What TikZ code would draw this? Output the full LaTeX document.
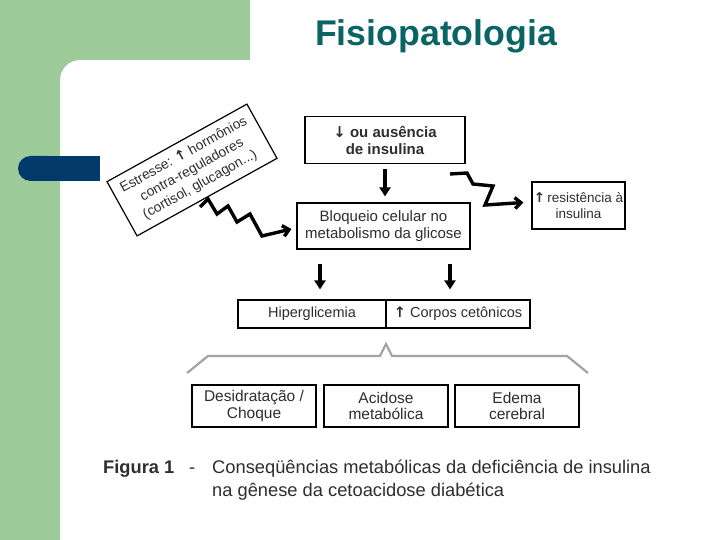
\documentclass[tikz,border=0pt]{standalone}
\usepackage{fontspec}
\setmainfont{Liberation Sans}
\newfontfamily\arrowfont{DejaVu Sans}
\usetikzlibrary{arrows.meta,calc}
\definecolor{slidegreen}{HTML}{9DCB9A}
\definecolor{slidenavy}{HTML}{023A6C}
\definecolor{titleteal}{HTML}{0B6464}
\definecolor{txtgray}{HTML}{2E2E2E}
\definecolor{bracegray}{HTML}{A3A3A3}
\newcommand\myup{{\arrowfont\bfseries ↑}}
\newcommand\mydown{{\arrowfont\bfseries ↓}}
\begin{document}
\begin{tikzpicture}[x=1pt,y=-1pt,
  box/.style={draw=black, line width=1.2pt, inner sep=0pt, align=center,
    font=\fontsize{14.5}{17}\selectfont, text=txtgray},
  downarr/.style={line width=3.2pt, -{Triangle[length=9pt,width=11pt]}},
  zig/.style={line width=3.4pt, line join=miter, -{Straight Barb[length=6pt,width=11pt]}},
  capfont/.style={font=\fontsize{18.3}{22}\selectfont, text=txtgray, inner sep=0pt}]
\useasboundingbox (0,0) rectangle (720,540);
\fill[white] (0,0) rectangle (720,540);
% slide background
\fill[slidegreen] (0,0) -- (250,0) -- (250,60) -- (80,60)
  .. controls (69,60) and (60,69) .. (60,80) -- (60,540) -- (0,540) -- cycle;
\fill[slidenavy, rounded corners=12.5pt] (18,156) rectangle (60,181);
\fill[slidenavy] (40,156) rectangle (100,181);
% title
\node[font=\fontsize{35.7}{40}\selectfont\bfseries, text=titleteal, inner sep=0pt] (title) at (436,36) {Fisiopatologia};
% boxes
\node[box, minimum width=160, minimum height=47, font=\fontsize{15}{17}\selectfont\bfseries] (top) at (385,140) {\mydown\ ou ausência\\de insulina};
\node[box, minimum width=173, minimum height=46, font=\fontsize{15}{17}\selectfont] (bloq) at (383.5,226) {Bloqueio celular no\\metabolismo da glicose};
\node[box, minimum width=93, minimum height=47, font=\fontsize{13.5}{16.5}\selectfont] (resist) at (578.5,205.5) {\myup\,resistência à\\insulina};
\node[box, rotate=29, minimum width=160, minimum height=62, font=\fontsize{13.8}{17}\selectfont] (stress) at (192,170) {Estresse: \myup\ hormônios\\contra-reguladores\\(cortisol, glucagon...)};
\node[box, minimum width=148, minimum height=28] (hip) at (312,314) {Hiperglicemia};
\node[box, minimum width=144, minimum height=28] (cet) at (458,314) {\myup\ Corpos cetônicos};
\node[box, minimum width=124, minimum height=42, font=\fontsize{15.5}{16.5}\selectfont] (desid) at (254,406) {Desidratação /\\Choque};
\node[box, minimum width=124, minimum height=42, font=\fontsize{15.5}{16.5}\selectfont] (acid) at (386,406) {Acidose\\metabólica};
\node[box, minimum width=124, minimum height=42, font=\fontsize{15.5}{16.5}\selectfont] (edema) at (517,406) {Edema\\cerebral};
% arrows
\draw[downarr] ([yshift=-5pt]top.south) -- ([yshift=6pt]top.south |- bloq.north);
\draw[downarr] ($(bloq.south)+(-63.5,14)$) -- ($(hip.north)+(8,-10)$);
\draw[downarr] ($(bloq.south)+(66.5,14)$) -- ($(cet.north)+(-8,-10)$);
% zigzags
\coordinate (zr0) at (450,174);
\draw[zig] (zr0) -- (467,173) -- (473,184) -- (493,186) -- (485,205) -- ([xshift=-8pt,yshift=3pt]resist.west);
\coordinate (zl0) at (200,207);
\draw[zig] (zl0) -- (208,199) -- (217,214) -- (228,206) -- (237,222) -- (250,214) -- (262,236) -- ([xshift=-5pt,yshift=-3pt]bloq.west);
% brace
\draw[bracegray, line width=2.2pt, line join=miter] (187,373) -- (208,356) -- (380,356) -- (386,344) -- (392,356) -- (567,356) -- (588,373);
% caption
\node[capfont, anchor=base west, font=\fontsize{18.3}{22}\selectfont\bfseries] (fig) at (103,473) {Figura 1};
\node[capfont, anchor=base west] (dash) at (189,473) {-};
\node[capfont, anchor=base west] (cap1) at (212,473) {Conseqüências metabólicas da deficiência de insulina};
\node[capfont, anchor=base west] (cap2) at (212,496) {na gênese da cetoacidose diabética};
\end{tikzpicture}
\end{document}
